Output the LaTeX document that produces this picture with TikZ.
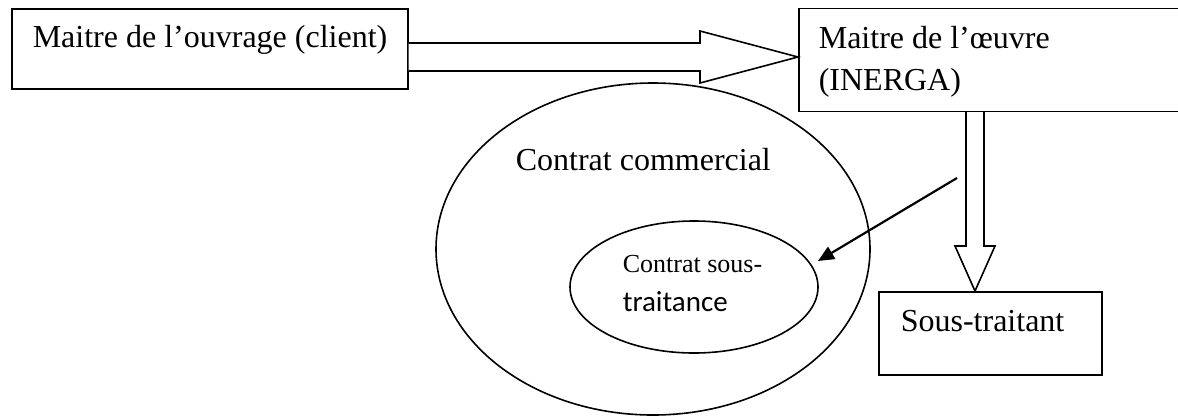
\documentclass[tikz,border=0pt]{standalone}
\usepackage{fontspec}
\setmainfont{Liberation Serif}
\newfontfamily\calibri{Carlito}
\usetikzlibrary{shapes.geometric,arrows.meta}
\begin{document}
\begin{tikzpicture}[x=1pt,y=-1pt,
  line width=1.6pt,
  box/.style={draw, rectangle, anchor=north west, inner sep=0pt},
  oval/.style={draw, ellipse, inner sep=0pt},
  label/.style={anchor=base west, inner sep=0pt, font=\fontsize{32}{38}\selectfont},
  hollow/.style={draw, fill=white, line join=miter}]
\useasboundingbox (0,0) rectangle (1178,416);

% boxes
\node[box, minimum width=396pt, minimum height=80pt] (client) at (11,8) {};
\node[box, minimum width=420pt, minimum height=103pt] (oeuvre) at (798,7.5) {};
\node[box, minimum width=223pt, minimum height=83pt] (sous) at (878,291) {};

% contracts
\node[oval, minimum width=434pt, minimum height=332pt] (commercial) at (653,249) {};
\node[oval, minimum width=248pt, minimum height=132pt] (soustr) at (694,287) {};

% texts
\node[label] (tclient) at (32,47) {Maitre de l’ouvrage (client)};
\node[label] (toeuvre1) at (818,48) {Maitre de l’œuvre};
\node[label] (toeuvre2) at (818,90) {(INERGA)};
\node[label] (tcomm) at (515,170) {Contrat commercial};
\node[label, font=\fontsize{26}{30}\selectfont] (tst1) at (622,272) {Contrat sous-};
\node[label, font=\calibri\fontsize{29}{34}\selectfont] (tst2) at (622,311) {traitance};
\node[label] (tsous) at (900,331) {Sous-traitant};

% hollow arrow client -> oeuvre
\path[hollow] (client.east |- 0,43) -- (700,43) -- (700,31)
  -- (oeuvre.west |- 0,57) -- (700,83) -- (700,71)
  -- (client.east |- 0,71);

% hollow arrow oeuvre -> sous-traitant
\path[hollow] (966,0 |- oeuvre.south) -- (966,246) -- (955,246)
  -- (975,0 |- sous.north) -- (995,246) -- (984,246)
  -- (984,0 |- oeuvre.south);

% thin arrow towards the sub-contract
\coordinate (from) at (957,178);
\coordinate (to) at (818,261);
\draw[line width=2.2pt, -{Triangle[length=16pt,width=14pt]}] (from) -- (to);
\end{tikzpicture}
\end{document}
